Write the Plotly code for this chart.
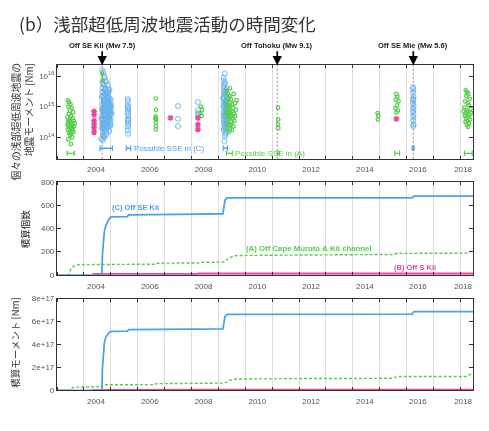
import plotly.graph_objects as go
from plotly.subplots import make_subplots

BLUE = "#4aa3ea"
GREEN = "#55cc4a"
PINK = "#e8479b"

# tick labels sit in the middle of each labelled year, grid lines on Jan 1
year_text = ["2004", "2006", "2008", "2010", "2012", "2014", "2016", "2018"]
year_label_pos = [2004.45, 2006.45, 2008.45, 2010.45, 2012.45, 2014.45, 2016.42, 2018.1]

# large earthquakes (decimal year)
event_t = [2004.68, 2011.19, 2016.25]
event_text = ["Off SE Kii (Mw 7.5)", "Off Tohoku (Mw 9.1)", "Off SE Mie (Mw 5.6)"]

# individual shallow VLFEs, (C) Off SE Kii
blue_t = [
    2004.66, 2004.66, 2004.66, 2004.67, 2004.67, 2004.67, 2004.68, 2004.68, 2004.69, 2004.69,
    2004.70, 2004.70, 2004.71, 2004.71, 2004.72, 2004.72, 2004.73, 2004.73, 2004.74, 2004.74,
    2004.75, 2004.75, 2004.76, 2004.76, 2004.77, 2004.77, 2004.78, 2004.78, 2004.79, 2004.79,
    2004.80, 2004.80, 2004.81, 2004.81, 2004.82, 2004.82, 2004.83, 2004.83, 2004.84, 2004.84,
    2004.85, 2004.85, 2004.86, 2004.86, 2004.87, 2004.87, 2004.88, 2004.88, 2004.89, 2004.89,
    2004.90, 2004.90, 2004.91, 2004.91, 2004.92, 2004.92, 2004.93, 2004.93, 2004.94, 2004.94,
    2004.95, 2004.95, 2004.96, 2004.96, 2004.97, 2004.97, 2004.98, 2004.98, 2004.99, 2004.99,
    2005.00, 2005.00, 2005.01, 2005.02, 2004.65, 2004.70, 2004.72, 2004.76, 2004.80, 2004.83,
    2004.69, 2004.74, 2004.78, 2004.86, 2004.90, 2004.68, 2004.71, 2004.75, 2004.79, 2004.84,
    2004.73, 2004.77, 2004.81, 2004.85, 2004.88, 2004.92, 2004.95, 2004.98, 2004.70, 2004.82,
    2004.67, 2004.72, 2004.76, 2004.80, 2004.87, 2004.91, 2004.96, 2005.03, 2004.74, 2004.89,
    2005.63, 2005.64, 2005.63, 2005.65, 2005.64, 2005.63, 2005.65, 2005.64, 2005.63, 2005.65,
    2005.64, 2005.63, 2005.65, 2005.64, 2005.66,
    2007.50, 2007.50, 2007.50,
    2008.24, 2008.24, 2008.24, 2008.25,
    2009.20, 2009.21, 2009.22, 2009.20, 2009.23, 2009.21, 2009.24, 2009.22, 2009.20, 2009.25,
    2009.23, 2009.21, 2009.26, 2009.24, 2009.22, 2009.20, 2009.27, 2009.25, 2009.23, 2009.21,
    2009.28, 2009.26, 2009.24, 2009.22, 2009.20, 2009.29, 2009.27, 2009.25, 2009.23, 2009.30,
    2009.28, 2009.26, 2009.31, 2009.29, 2009.27, 2009.32, 2009.30, 2009.28, 2009.33, 2009.31,
    2009.25, 2009.24, 2009.22, 2009.21, 2009.20, 2009.19, 2009.19, 2009.18, 2009.26, 2009.34,
    2016.24, 2016.25, 2016.24, 2016.26, 2016.25, 2016.24, 2016.26, 2016.25, 2016.24, 2016.26,
    2016.25, 2016.24, 2016.26, 2016.25, 2016.24,
]
blue_m = [
    4e14, 8e14, 2e15, 1.6e16, 2e14, 5e14, 1.2e15, 3e15, 6e15, 3.5e14,
    1.8e14, 9e14, 2.2e15, 4.5e14, 1.1e14, 7e14, 1.5e15, 3e14, 5e15, 2.5e14,
    6e14, 1.3e15, 2.8e15, 1.5e14, 4e14, 8.5e15, 1e15, 2e14, 3.5e15, 5.5e14,
    1.7e15, 2.7e14, 9e14, 4e15, 3.2e14, 1.2e14, 6.5e14, 2.4e15, 1.1e15, 4.2e14,
    1.9e14, 3e15, 7.5e14, 1.4e15, 3.8e14, 2.6e14, 5.2e15, 8e14, 1.6e15, 4.8e14,
    2.2e14, 1e15, 2.9e15, 6e14, 3.4e14, 1.3e15, 7e14, 2e15, 1.6e14, 4.5e14,
    9.5e14, 3.6e15, 5.5e14, 2.3e14, 1.2e15, 6.5e14, 3e14, 1.8e15, 8e14, 4e14,
    1.4e15, 2.5e14, 6e14, 1e15, 9e13, 8e13, 1.3e16, 1e16, 7e15, 6.5e15,
    4e15, 1.9e15, 2.6e15, 2e15, 3.4e15, 2.8e14, 1.3e14, 1e14, 1.7e14, 1.4e14,
    8.8e14, 5.8e14, 1.25e15, 3.3e14, 2.1e15, 7.2e14, 4.3e14, 1.1e15, 2.4e14, 5.1e14,
    3.9e14, 6.8e14, 1.45e15, 2.9e14, 9.2e14, 4.7e14, 1.15e15, 6.1e14, 2.05e14, 2.75e15,
    1.8e15, 1.5e15, 1.1e15, 8.5e14, 7e14, 6e14, 5e14, 4e14, 3.3e14, 2.7e14,
    2.2e14, 1.7e14, 1.3e14, 9.5e14, 3.7e14,
    1.05e15, 4e14, 2.3e14,
    1.4e15, 7.8e14, 5.4e14, 6.2e14,
    9e15, 7e15, 5.5e15, 4.5e15, 3.8e15, 3e15, 2.5e15, 2.1e15, 1.8e15, 1.5e15,
    1.3e15, 1.1e15, 9.5e14, 8.2e14, 7e14, 6.2e14, 5.5e14, 4.8e14, 4.2e14, 3.6e14,
    3.1e14, 2.7e14, 2.3e14, 2e14, 1.7e14, 1.5e14, 1.3e14, 1.1e14, 7.5e13, 2.2e15,
    1.6e15, 1.2e15, 8.8e14, 6.5e14, 4.5e14, 3.4e14, 2.5e14, 1.9e14, 5e14, 3.9e15,
    6e15, 1.2e16, 2.6e15, 1.4e15, 2.9e14, 5e14, 1e15, 2e15, 3.2e15, 7.5e14,
    4.3e15, 3.6e15, 2.8e15, 2.1e15, 1.6e15, 1.3e15, 1.05e15, 8.5e14, 7e14, 5.6e14,
    4.5e14, 3.5e14, 2.6e14, 2.3e14, 1.8e15,
]

# (A) Off Cape Muroto & Kii channel
green_t = [
    2003.40, 2003.45, 2003.50, 2003.42, 2003.55, 2003.48, 2003.60, 2003.44, 2003.52, 2003.38,
    2003.58, 2003.47, 2003.62, 2003.41, 2003.53, 2003.49, 2003.57, 2003.43, 2003.64, 2003.51,
    2003.46, 2003.59, 2003.40, 2003.55, 2003.50, 2003.61, 2003.44, 2003.53, 2003.48, 2003.57,
    2003.42, 2003.52, 2003.46, 2003.56, 2003.66, 2003.39,
    2004.68, 2004.69,
    2006.67, 2006.68, 2006.67, 2006.68, 2006.67, 2006.68, 2006.67, 2006.66,
    2008.35, 2008.40, 2008.33, 2008.38,
    2009.30, 2009.35, 2009.42, 2009.38, 2009.48, 2009.33, 2009.45, 2009.52, 2009.40, 2009.36,
    2009.55, 2009.44, 2009.31, 2009.50, 2009.39, 2009.58, 2009.34, 2009.47, 2009.42, 2009.53,
    2009.37, 2009.60, 2009.46, 2009.32, 2009.49, 2009.41, 2009.56, 2009.35, 2009.44, 2009.51,
    2009.38, 2009.62, 2009.65, 2009.68, 2009.63, 2009.43, 2009.57, 2009.29, 2009.28, 2009.45,
    2011.22, 2011.23, 2011.22, 2011.23,
    2014.92, 2014.95, 2014.93,
    2015.62, 2015.66, 2015.60, 2015.70, 2015.64, 2015.58, 2015.68, 2015.62,
    2018.20, 2018.25, 2018.30, 2018.22, 2018.35, 2018.18, 2018.28, 2018.32, 2018.15, 2018.38,
    2018.24, 2018.27, 2018.20, 2018.34, 2018.16, 2018.30, 2018.22, 2018.36, 2018.26, 2018.19,
    2018.32, 2018.24, 2018.29, 2018.40, 2018.12,
]
green_m = [
    1.6e15, 1.4e15, 1.2e15, 1.0e15, 9e14, 7.5e14, 6.5e14, 5.8e14, 5e14, 4.5e14,
    4.2e14, 3.8e14, 3.5e14, 3.2e14, 3e14, 2.8e14, 2.6e14, 2.4e14, 2.3e14, 2.1e14,
    2e14, 1.9e14, 1.8e14, 1.7e14, 1.6e14, 1.5e14, 1.4e14, 1.3e14, 1.2e14, 1e14,
    8.5e13, 6e13, 3.4e14, 2.2e14, 2.9e14, 2.5e14,
    1.2e16, 7e15,
    1.85e15, 8e14, 4.8e14, 3.8e14, 3e14, 2.3e14, 1.8e14, 4.2e14,
    1.0e15, 8e14, 6e14, 5e14,
    3.2e15, 2.7e15, 2.2e15, 1.9e15, 1.7e15, 1.5e15, 1.35e15, 1.2e15, 1.1e15, 1e15,
    9e14, 8.2e14, 7.5e14, 7e14, 6.4e14, 5.8e14, 5.3e14, 4.9e14, 4.5e14, 4.1e14,
    3.8e14, 3.5e14, 3.2e14, 3e14, 2.7e14, 2.5e14, 2.3e14, 2.1e14, 1.9e14, 1.7e14,
    1.5e14, 1.3e15, 8e14, 1.6e15, 5e14, 4e15, 2.6e15, 6e14, 1.2e15, 6e14,
    9.3e14, 3.8e14, 2.6e14, 2e14,
    6.2e14, 5.1e14, 3.8e14,
    2.6e15, 2.1e15, 1.7e15, 1.5e15, 1.1e15, 9e14, 7.5e14, 6.5e14,
    3.4e15, 3e15, 2.6e15, 2.2e15, 1.8e15, 1.5e15, 1.3e15, 1.1e15, 9.5e14, 8.5e14,
    7.5e14, 6.8e14, 6e14, 5.5e14, 5e14, 4.6e14, 4.2e14, 3.8e14, 3.5e14, 3.2e14,
    2.8e14, 2.5e14, 2.2e14, 6.3e14, 7e14,
]

# (B) Off S Kii
pink_t = [2004.38, 2004.38, 2004.38, 2004.38, 2004.38, 2004.38, 2007.22, 2008.24, 2008.24, 2008.24, 2015.62]
pink_m = [7e14, 5.5e14, 3.5e14, 2.7e14, 2.1e14, 1.45e14, 4.3e14, 4.3e14, 2.6e14, 1.8e14, 4e14]

# possible slow slip episodes (start, end)
sse_c_start = [2004.60, 2005.58, 2009.18, 2016.21]
sse_c_end = [2005.06, 2005.74, 2009.34, 2016.28]
sse_a_start = [2003.38, 2009.30, 2011.20, 2015.56, 2018.15]
sse_a_end = [2003.64, 2009.52, 2011.26, 2015.74, 2018.44]

# cumulative number
count_c_t = [2003.0, 2004.67, 2004.69, 2004.72, 2004.76, 2004.81, 2004.86, 2004.92, 2004.97, 2005.02,
             2005.62, 2005.66, 2007.50, 2008.24, 2009.17, 2009.21, 2009.25, 2009.32, 2016.20, 2016.27, 2018.47]
count_c = [0, 0, 180, 300, 370, 420, 450, 475, 490, 500,
           501, 517, 520, 524, 526, 590, 645, 662, 663, 677, 677]
count_a_t = [2003.0, 2003.42, 2003.47, 2003.53, 2003.60, 2003.70, 2003.80, 2006.62, 2006.68, 2008.30,
             2008.45, 2009.18, 2009.27, 2009.36, 2009.46, 2009.56, 2009.70, 2011.20, 2011.25, 2014.90,
             2015.50, 2015.58, 2015.72, 2018.22, 2018.30, 2018.38, 2018.47]
count_a = [0, 0, 25, 55, 72, 82, 88, 92, 100, 103,
           108, 110, 120, 140, 155, 163, 167, 168, 172, 175,
           176, 182, 185, 187, 195, 203, 208]
count_b_t = [2004.33, 2004.36, 2007.20, 2007.23, 2008.22, 2008.26, 2015.60, 2015.64, 2018.47]
count_b = [0, 6, 6, 7, 7, 10, 10, 11, 11]

# cumulative seismic moment [Nm]
moment_c_t = [2003.0, 2004.67, 2004.69, 2004.72, 2004.76, 2004.81, 2004.86, 2004.92, 2004.97, 2005.02,
              2005.62, 2005.66, 2009.17, 2009.21, 2009.25, 2009.32, 2016.20, 2016.27, 2018.47]
moment_c = [0, 0, 2.0e17, 3.3e17, 4.1e17, 4.6e17, 4.85e17, 5.0e17, 5.1e17, 5.15e17,
            5.16e17, 5.3e17, 5.36e17, 5.9e17, 6.45e17, 6.63e17, 6.65e17, 6.86e17, 6.87e17]
moment_a_t = [2003.0, 2003.42, 2003.47, 2003.53, 2003.60, 2003.70, 2004.66, 2004.70, 2006.62, 2006.68,
              2008.30, 2008.45, 2009.18, 2009.27, 2009.36, 2009.46, 2009.56, 2009.70, 2011.20, 2011.25,
              2014.90, 2015.50, 2015.58, 2015.72, 2018.22, 2018.30, 2018.38, 2018.47]
moment_a = [0, 0, 0.8e16, 1.8e16, 2.4e16, 2.8e16, 3.0e16, 4.8e16, 5.0e16, 5.8e16,
            6.0e16, 6.2e16, 6.3e16, 7.0e16, 8.2e16, 9.0e16, 9.6e16, 9.9e16, 1.0e17, 1.02e17,
            1.04e17, 1.06e17, 1.15e17, 1.2e17, 1.21e17, 1.3e17, 1.42e17, 1.5e17]
moment_b_t = [2004.33, 2004.36, 2008.26, 2015.64, 2018.47]
moment_b = [0, 2.5e15, 3.5e15, 4e15, 4e15]

# the page body adds an 8px margin around the plot div
PAGE_OFF = 8
W, H = 473, 415
ML, MR = 49, 8
PW = W - ML - MR


def px_x(px):
    # page x pixel -> paper coordinate
    return (px - PAGE_OFF - ML) / PW


def px_y(py):
    # page y pixel -> paper coordinate
    return 1 - (py - PAGE_OFF) / H


TICKFONT = dict(family="Liberation Sans, Arial, sans-serif", size=8, color="#555")
JPFONT = "Noto Sans CJK JP, sans-serif"

fig = make_subplots(rows=3, cols=1)

# panel 1: individual events
fig.add_trace(go.Scatter(x=blue_t, y=blue_m, mode="markers",
                         marker=dict(symbol="circle-open", size=5, color=BLUE, line=dict(width=1)),
                         opacity=0.85, showlegend=False), row=1, col=1)
fig.add_trace(go.Scatter(x=green_t, y=green_m, mode="markers",
                         marker=dict(symbol="circle-open", size=3.5, color=GREEN, line=dict(width=1.2)),
                         showlegend=False), row=1, col=1)
fig.add_trace(go.Scatter(x=pink_t, y=pink_m, mode="markers",
                         marker=dict(symbol="asterisk-open", size=5, color=PINK, line=dict(width=1.4)),
                         showlegend=False), row=1, col=1)


def sse_trace(starts, ends, level, color):
    xs, ys = [], []
    for s, e in zip(starts, ends):
        xs += [s, e, None]
        ys += [level, level, None]
    return go.Scatter(x=xs, y=ys, mode="lines+markers", line=dict(color=color, width=1.3),
                      marker=dict(symbol="line-ns-open", size=4, color=color, line=dict(width=1.2)),
                      showlegend=False)


fig.add_trace(sse_trace(sse_c_start, sse_c_end, 4.4e13, BLUE), row=1, col=1)
fig.add_trace(sse_trace(sse_a_start, sse_a_end, 3.0e13, GREEN), row=1, col=1)

for t in event_t:
    fig.add_vline(x=t, line=dict(color="#888", width=1, dash="2px,2px"), row=1, col=1)

# panel 2: cumulative number
fig.add_trace(go.Scatter(x=count_a_t, y=count_a, mode="lines",
                         line=dict(color=GREEN, width=1.4, dash="3px,2px"), showlegend=False), row=2, col=1)
fig.add_trace(go.Scatter(x=count_b_t, y=count_b, mode="lines",
                         line=dict(color=PINK, width=2.2), showlegend=False), row=2, col=1)
fig.add_trace(go.Scatter(x=count_c_t, y=count_c, mode="lines",
                         line=dict(color=BLUE, width=1.8), showlegend=False), row=2, col=1)

# panel 3: cumulative moment
fig.add_trace(go.Scatter(x=moment_a_t, y=moment_a, mode="lines",
                         line=dict(color=GREEN, width=1.4, dash="3px,2px"), showlegend=False), row=3, col=1)
fig.add_trace(go.Scatter(x=moment_b_t, y=moment_b, mode="lines",
                         line=dict(color=PINK, width=2.2), showlegend=False), row=3, col=1)
fig.add_trace(go.Scatter(x=moment_c_t, y=moment_c, mode="lines",
                         line=dict(color=BLUE, width=1.8), showlegend=False), row=3, col=1)

xaxis_style = dict(
    range=[2003.0, 2018.47], tickmode="array", tickvals=year_label_pos, ticktext=year_text,
    ticks="", ticklabelstandoff=3, showgrid=False, zeroline=False, showline=True,
    linecolor="#333", linewidth=1.2, mirror="allticks", tickfont=TICKFONT,
    minor=dict(tick0=2004, dtick=1, showgrid=True, gridcolor="#dddddd", gridwidth=1,
               ticks="inside", ticklen=3, tickcolor="#333"),
)
for i in (1, 2, 3):
    fig.update_xaxes(xaxis_style, row=i, col=1)

yaxis_style = dict(showgrid=False, zeroline=False, showline=True, linecolor="#333", linewidth=1.2,
                   mirror="allticks", ticks="inside", ticklen=4, tickcolor="#333", tickfont=TICKFONT)
fig.update_yaxes(yaxis_style, row=1, col=1, type="log", range=[13.3, 16.35],
                 tickvals=[1e14, 1e15, 1e16], ticktext=["10<sup>14</sup>", "10<sup>15</sup>", "10<sup>16</sup>"])
fig.update_yaxes(yaxis_style, row=2, col=1, range=[0, 800],
                 tickvals=[0, 200, 400, 600, 800], ticktext=["0", "200", "400", "600", "800"])
fig.update_yaxes(yaxis_style, row=3, col=1, range=[0, 8e17],
                 tickvals=[0, 2e17, 4e17, 6e17, 8e17], ticktext=["0", "2e+17", "4e+17", "6e+17", "8e+17"])

annotations = [
    dict(text="(b）浅部超低周波地震活動の時間変化", xref="paper", yref="paper",
         x=px_x(17), y=px_y(20), xanchor="left", yanchor="middle", showarrow=False,
         font=dict(family=JPFONT, size=17.5, color="#333")),
    dict(text="個々の浅部超低周波地震の<br>地震モーメント [Nm]", xref="paper", yref="paper",
         x=px_x(23), y=px_y(120), xanchor="center", yanchor="middle", textangle=-90,
         align="right", showarrow=False,
         font=dict(family=JPFONT, size=9.8, color="#333")),
    dict(text="積算個数", xref="paper", yref="paper", x=px_x(25), y=px_y(230), textangle=-90,
         xanchor="center", yanchor="middle", showarrow=False,
         font=dict(family=JPFONT, size=9.5, color="#222")),
    dict(text="積算モーメント [Nm]", xref="paper", yref="paper", x=px_x(15), y=px_y(346),
         xanchor="center", yanchor="middle", textangle=-90, showarrow=False,
         font=dict(family=JPFONT, size=9.5, color="#333")),
    dict(text="Possible SSE in (C)", xref="x", yref="y", x=2005.78, y=13.64, xanchor="left",
         showarrow=False, font=dict(family="Liberation Sans, Arial", size=8, color=BLUE)),
    dict(text="Possible SSE in (A)", xref="x", yref="y", x=2009.56, y=13.48, xanchor="left",
         showarrow=False, font=dict(family="Liberation Sans, Arial", size=8, color=GREEN)),
    dict(text="<b>(C) Off SE Kii</b>", xref="x2", yref="y2", x=2004.98, y=580, xanchor="left",
         showarrow=False, font=dict(family="Liberation Sans, Arial", size=7.5, color=BLUE)),
    dict(text="<b>(A) Off Cape Muroto &amp; Kii channel</b>", xref="x2", yref="y2", x=2009.95, y=225,
         xanchor="left", showarrow=False, font=dict(family="Liberation Sans, Arial", size=7.8, color=GREEN)),
    dict(text="<b>(B) Off S Kii</b>", xref="x2", yref="y2", x=2015.45, y=62, xanchor="left",
         showarrow=False, font=dict(family="Liberation Sans, Arial", size=7.5, color=PINK)),
]
for t, txt in zip(event_t, event_text):
    annotations.append(dict(text=f"<b>{txt}</b>", xref="x", yref="y domain", x=t, y=1,
                            ax=0, ay=-20, showarrow=True, arrowhead=2, arrowsize=1.1,
                            arrowwidth=1.7, arrowcolor="#000",
                            font=dict(family="Liberation Sans, Arial", size=7.5, color="#222")))

fig.update_layout(
    width=W, height=H,
    margin=dict(l=ML, r=MR, t=0, b=0),
    paper_bgcolor="white", plot_bgcolor="white",
    yaxis=dict(domain=[px_y(158), px_y(62.5)]),
    yaxis2=dict(domain=[px_y(276.7), px_y(181.7)]),
    yaxis3=dict(domain=[px_y(394.7), px_y(301)]),
    annotations=annotations,
    showlegend=False,
)

fig.write_html("out.html")
